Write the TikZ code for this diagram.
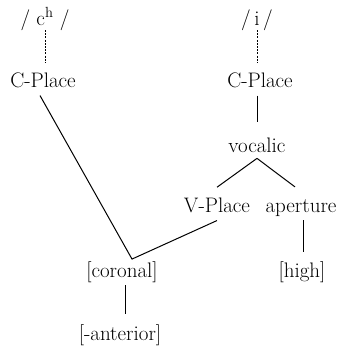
\documentclass[tikz,border=0pt]{standalone}
\usepackage{tikz}
\begin{document}
\begin{tikzpicture}[x=1pt,y=-1pt,
    feat/.style={font=\fontsize{21}{25}\selectfont,inner sep=2pt,anchor=base},
    link/.style={line width=1pt},
    assoc/.style={line width=0.9pt,dash pattern=on 2pt off 1.2pt}]
    \useasboundingbox (0,0) rectangle (345,346);
    % segments
    \node[feat] (ch)  at (45,25)  {/ c\textsuperscript{h} /};
    \node[feat] (vi)  at (257,25) {/\,i\,/};
    % place nodes
    \node[feat] (cpl) at (43,87)  {C-Place};
    \node[feat] (cpr) at (260,87) {C-Place};
    \node[feat] (voc) at (257,152) {vocalic};
    \node[feat] (vpl) at (217,212) {V-Place};
    \node[feat] (apt) at (301,212) {aperture};
    % features
    \node[feat] (cor) at (122,277) {[coronal]};
    \node[feat] (hgh) at (302,277) {[high]};
    \node[feat] (ant) at (120,340) {[-anterior]};
    \coordinate (join) at ([xshift=10pt]cor.north);
    % association lines
    \draw[assoc] ([yshift=-5pt]ch.base) -- ([yshift=8pt]cpl.north -| ch.base);
    \draw[assoc] ([yshift=-5pt]vi.base) -- ([yshift=8pt]cpr.north -| vi.base);
    \draw[link] ([yshift=-6pt]cpr.south -| voc.base) -- ([yshift=13pt]voc.north);
    \draw[link] ([yshift=-4pt]voc.south) -- ([yshift=8pt]vpl.north);
    \draw[link] ([yshift=-4pt]voc.south) -- ([shift={(-6pt,10pt)}]apt.north);
    \draw[link] ([shift={(-3pt,-6pt)}]cpl.south) -- (join) -- ([yshift=-6pt]vpl.south);
    \draw[link] ([shift={(2pt,-2pt)}]apt.south) -- ([shift={(1pt,7pt)}]hgh.north);
    \draw[link] ([shift={(3pt,-1pt)}]cor.south) -- ([shift={(5pt,8pt)}]ant.north);
\end{tikzpicture}
\end{document}
